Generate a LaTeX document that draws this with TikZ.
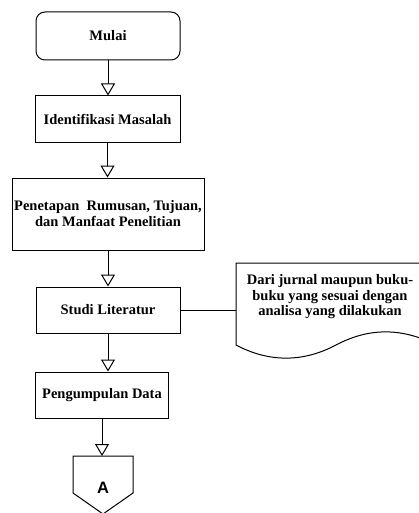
\documentclass[tikz,border=0pt]{standalone}
\usepackage{fontspec}
\setmainfont{Liberation Serif}
\newfontfamily\arialfont{Liberation Sans}
\usetikzlibrary{arrows.meta}

\begin{document}
\begin{tikzpicture}[x=1pt,y=-1pt,line width=1pt,
  >={Triangle[open,length=12pt,width=14pt,fill=white]},
  box/.style={draw,font=\bfseries\fontsize{14.5}{16}\selectfont,align=center,inner sep=0pt},
  note/.style={font=\bfseries\fontsize{14.5}{15.5}\selectfont,align=center,inner sep=0pt}]
\useasboundingbox (0,0) rectangle (418,513);

% Start and process boxes
\node[box,rounded corners=9pt,minimum width=144pt,minimum height=48pt] (mulai) at (108,36) {Mulai};
\node[box,minimum width=145pt,minimum height=47pt] (identifikasi) at (107.5,119.5) {Identifikasi Masalah};
\node[box,minimum width=192pt,minimum height=72pt] (penetapan) at (108,214) {Penetapan\ \ Rumusan, Tujuan,\\dan Manfaat Penelitian};
\node[box,minimum width=144pt,minimum height=46pt] (studi) at (108,310) {Studi Literatur};
\node[box,minimum width=133pt,minimum height=46pt] (pengumpulan) at (102,395) {Pengumpulan Data};

% Document shape with note
\draw (236,263) -- (436,263) -- (436,345) .. controls (402,327.5) and (369,327.5) .. (336,345)
  .. controls (303,362.5) and (269,362.5) .. (236,345) -- cycle;
\node[note] (catatan) at (330,297) {Dari jurnal maupun buku-\\buku yang sesuai dengan\\analisa yang dilakukan};
\coordinate (dokumen) at (236,310);

% Off-page connector
\coordinate (konektor) at (103,456);
\draw (73,456) -- (133,456) -- (133,493) -- (103,514) -- (73,493) -- cycle;
\node[font=\arialfont\bfseries\fontsize{16.5}{18}\selectfont,inner sep=0pt] (a) at (103,488) {A};

% Arrows
\draw[->] (mulai.south) -- (mulai.south |- identifikasi.north);
\draw[->] (identifikasi.south) -- (identifikasi.south |- penetapan.north);
\draw[->] (penetapan.south) -- (penetapan.south |- studi.north);
\draw[->] (studi.south) -- (studi.south |- pengumpulan.north);
\draw[->] (pengumpulan.south) -- (pengumpulan.south |- konektor);
\draw (studi.east) -- (dokumen);
\end{tikzpicture}
\end{document}
